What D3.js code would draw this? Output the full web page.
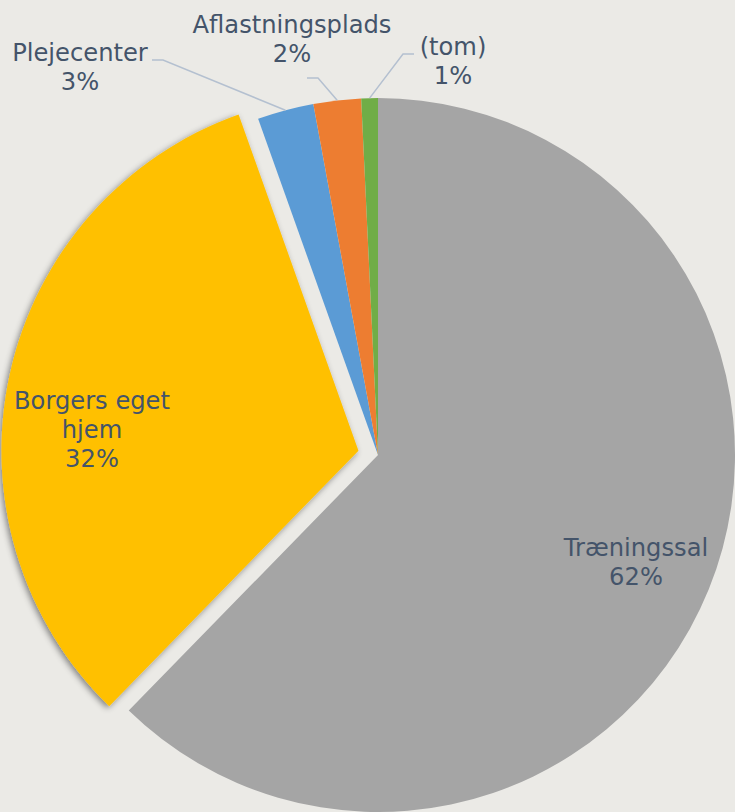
<!DOCTYPE html>
<html>
<head>
<meta charset="utf-8">
<script src="https://cdn.jsdelivr.net/npm/d3@7"></script>
<style>
  html, body { margin: 0; padding: 0; background: #ebeae6; }
  svg { display: block; }
</style>
</head>
<body>
<div id="chart"></div>
<script>
// categories and their share (in percent)
const categories = ['Træningssal', 'Borgers eget hjem', 'Plejecenter', 'Aflastningsplads', '(tom)'];
const values = [62.3, 32.25, 2.55, 2.15, 0.75];
const colors = ['#a5a5a5', '#ffc000', '#5b9bd5', '#ed7d31', '#70ad47'];
// label text lines (Excel wraps the long one)
const labelLines = [['Træningssal'], ['Borgers eget', 'hjem'], ['Plejecenter'], ['Aflastningsplads'], ['(tom)']];

const width = 735, height = 812;
const cx = 378, cy = 455, radius = 357;
const explode = [0, 20, 0, 0, 0];
const lineH = 29;

// where Excel put each label block: centre x, first baseline, and leader line (if any)
const labelLayout = [
  {x: 636, y: 556},
  {x: 92, y: 409},
  {x: 80, y: 61, leader: [[152, 60], [163, 60]]},
  {x: 292, y: 33, leader: [[307, 78], [318, 78]]},
  {x: 453, y: 55, leader: [[414, 54], [403, 54]]}
];

const svg = d3.select('#chart').append('svg')
  .attr('width', width)
  .attr('height', height);

const defs = svg.append('defs');
defs.append('filter')
  .attr('id', 'shadow')
  .attr('x', '-20%').attr('y', '-20%').attr('width', '140%').attr('height', '140%')
  .append('feDropShadow')
    .attr('dx', -2).attr('dy', 2)
    .attr('stdDeviation', 3)
    .attr('flood-color', '#000')
    .attr('flood-opacity', 0.45);

const total = d3.sum(values);
const data = categories.map((c, i) => ({name: c, value: values[i], color: colors[i], idx: i}));

const pie = d3.pie()
  .sort(null)
  .value(d => d.value);

const arc = d3.arc()
  .innerRadius(0)
  .outerRadius(radius);

const arcs = pie(data);

const g = svg.append('g').attr('transform', `translate(${cx},${cy})`);

g.selectAll('path.slice')
  .data(arcs)
  .enter().append('path')
    .attr('class', 'slice')
    .attr('d', arc)
    .attr('fill', d => d.data.color)
    .attr('filter', d => explode[d.data.idx] ? 'url(#shadow)' : null)
    .attr('transform', d => {
      const a = (d.startAngle + d.endAngle) / 2, e = explode[d.data.idx];
      return `translate(${e * Math.sin(a)},${-e * Math.cos(a)})`;
    });

// leader lines for the small outside slices
const line = d3.line();
arcs.forEach(d => {
  const lay = labelLayout[d.data.idx];
  if (!lay.leader) return;
  const a = (d.startAngle + d.endAngle) / 2;
  const p = [cx + radius * Math.sin(a), cy - radius * Math.cos(a)];
  svg.append('path')
    .attr('d', line([lay.leader[0], lay.leader[1], p]))
    .attr('fill', 'none')
    .attr('stroke', '#b4c0d0')
    .attr('stroke-width', 1.5);
});

// labels: name + rounded percent
const fmt = v => Math.round(v / total * 100) + '%';
arcs.forEach(d => {
  const lay = labelLayout[d.data.idx];
  const lines = labelLines[d.data.idx].concat([fmt(d.data.value)]);
  const t = svg.append('text')
    .attr('x', lay.x)
    .attr('y', lay.y)
    .attr('text-anchor', 'middle')
    .attr('fill', '#44546a')
    .style('font-family', '"DejaVu Sans", Verdana, sans-serif')
    .style('font-size', '24.2px');
  lines.forEach((s, k) => {
    t.append('tspan')
      .attr('x', lay.x)
      .attr('y', lay.y + k * lineH)
      .text(s);
  });
});
</script>
</body>
</html>
